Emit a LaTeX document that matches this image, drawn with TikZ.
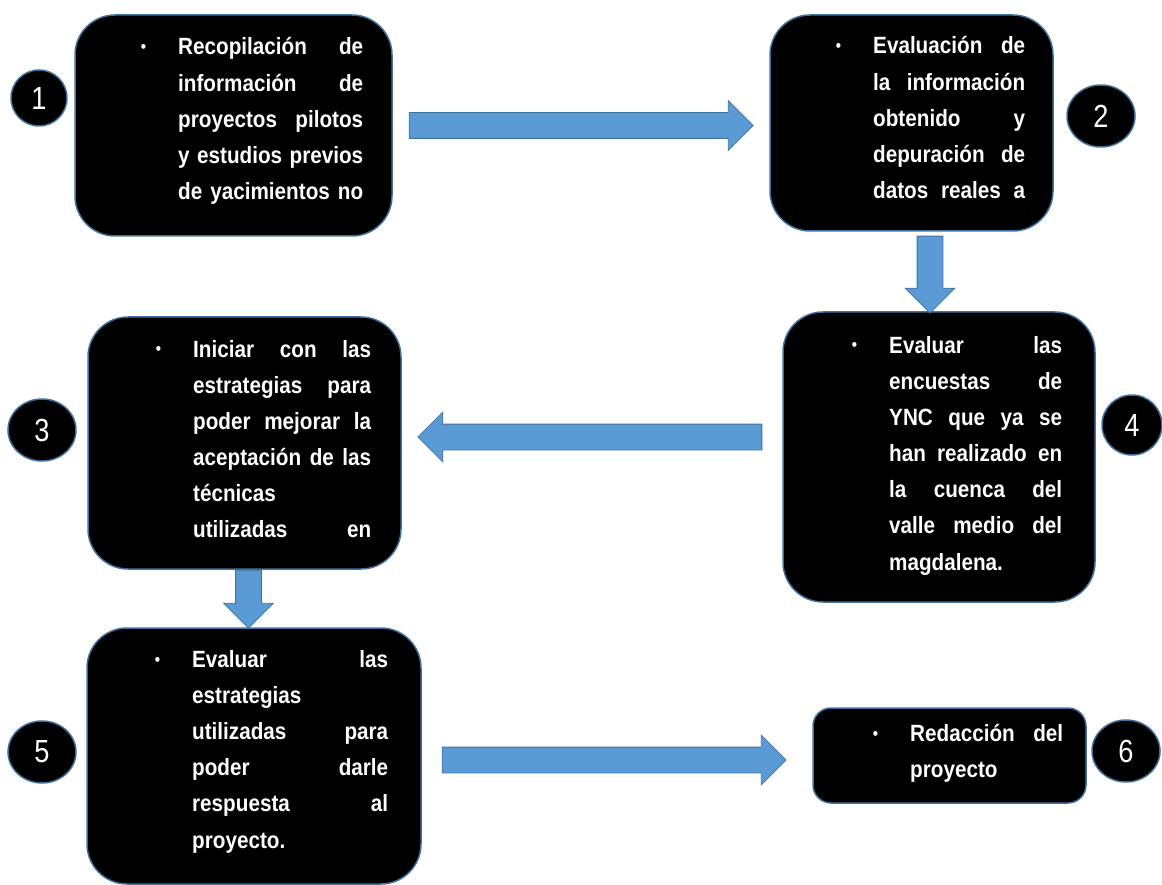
\documentclass[tikz,border=0pt]{standalone}
\usepackage{fontspec}
\setmainfont{Liberation Sans}[FakeStretch=0.88]
\newfontfamily\numfont{Liberation Sans}[FakeStretch=0.85]
\usetikzlibrary{shapes.geometric, shapes.arrows}

\definecolor{boxline}{HTML}{41719C}
\definecolor{arrowblue}{HTML}{5B9BD5}

\newcommand{\itembullet}{\leavevmode\llap{\raisebox{2pt}{\fontsize{17}{17}\selectfont\textbullet}\hspace{32pt}}}
\newcommand{\steplines}[2]{\parbox[t]{#1}{\bfseries\fontsize{23.5}{36.2}\selectfont\itembullet #2}}

\tikzset{
  stepbox/.style={draw=boxline, line width=1.5pt, fill=black, rounded corners=40pt, inner sep=0pt},
  stepnum/.style={ellipse, draw=boxline, line width=1.5pt, fill=black, text=white, inner sep=0pt, font=\numfont\fontsize{32}{32}\selectfont},
  steptext/.style={text=white, inner sep=0pt, anchor=base west},
  blockarrow/.style={single arrow, draw=boxline, line width=0.8pt, fill=arrowblue, inner xsep=0pt, inner ysep=12.5pt, minimum width=49pt, single arrow head extend=12pt, single arrow tip angle=90, anchor=tail},
}

\begin{document}
\begin{tikzpicture}[x=1pt, y=-1pt]
\useasboundingbox (0,0) rectangle (1162,885);
% boxes
\node[stepbox, minimum width=317pt, minimum height=221pt] (b1) at (233.5,125.5) {};
\node[stepbox, minimum width=283pt, minimum height=216pt] (b2) at (911.5,123) {};
\node[stepbox, minimum width=313pt, minimum height=252pt] (b3) at (244.5,443) {};
\node[stepbox, minimum width=312pt, minimum height=290pt] (b4) at (939,457) {};
\node[stepbox, minimum width=334pt, minimum height=256pt] (b5) at (254,756) {};
\node[stepbox, rounded corners=18pt, minimum width=273pt, minimum height=95pt] (b6) at (949.5,755.5) {};
% texts
\node[steptext] (t1) at (178,55) {\steplines{185pt}{Recopilación\hfill de\\ información\hfill de\\ proyectos\hfill pilotos\\ y\hfill estudios\hfill previos\\ de\hfill yacimientos\hfill no}};
\node[steptext] (t2) at (873,54) {\steplines{152pt}{Evaluación\hfill de\\ la\hfill información\\ obtenido\hfill y\\ depuración\hfill de\\ datos\hfill reales\hfill a}};
\node[steptext] (t3) at (193,357) {\steplines{178pt}{Iniciar\hfill con\hfill las\\ estrategias\hfill para\\ poder\hfill mejorar\hfill la\\ aceptación\hfill de\hfill las\\ técnicas\\ utilizadas\hfill en}};
\node[steptext] (t4) at (889,353) {\steplines{173pt}{Evaluar\hfill las\\ encuestas\hfill de\\ YNC\hfill que\hfill ya\hfill se\\ han\hfill realizado\hfill en\\ la\hfill cuenca\hfill del\\ valle\hfill medio\hfill del\\ magdalena.}};
\node[steptext] (t5) at (192,667) {\steplines{196pt}{Evaluar\hfill las\\ estrategias\\ utilizadas\hfill para\\ poder\hfill darle\\ respuesta\hfill al\\ proyecto.}};
\node[steptext] (t6) at (910,741) {\steplines{153pt}{Redacción\hfill del\\ proyecto}};
% numbers
\node[stepnum, minimum width=56pt, minimum height=56pt] (n1) at (39,98) {1};
\node[stepnum, minimum width=68pt, minimum height=62pt] (n2) at (1101,116) {2};
\node[stepnum, minimum width=68pt, minimum height=62pt] (n3) at (42,430) {3};
\node[stepnum, minimum width=60pt, minimum height=60pt] (n4) at (1132,425) {4};
\node[stepnum, minimum width=68pt, minimum height=62pt] (n5) at (42,752) {5};
\node[stepnum, minimum width=68pt, minimum height=62pt] (n6) at (1126,751) {6};
% arrows
\node[blockarrow, minimum height=344pt] (a12) at ([xshift=16pt]b1.east) {};
\node[blockarrow, minimum height=77pt, rotate=-90] (a24) at ([xshift=18.5pt, yshift=-4pt]b2.south) {};
\node[blockarrow, minimum height=344pt, rotate=180] (a43) at ([xshift=-20pt, yshift=20pt]b4.west) {};
\node[blockarrow, minimum height=58pt, rotate=-90] (a35) at ([xshift=4pt]b3.south) {};
\node[blockarrow, minimum height=344pt] (a56) at ([xshift=20pt, yshift=-4pt]b5.east) {};
\end{tikzpicture}
\end{document}
